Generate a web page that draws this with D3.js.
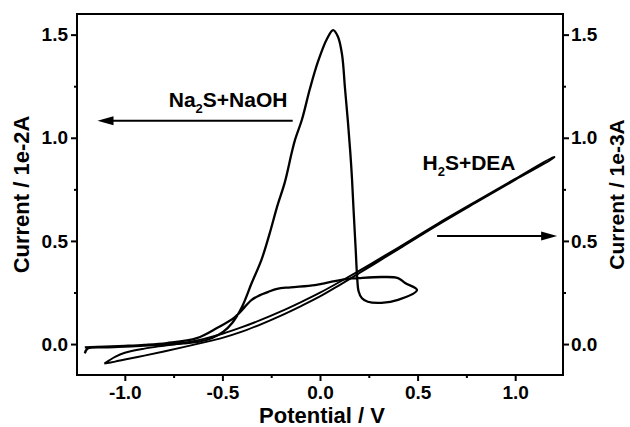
<!DOCTYPE html>
<html>
<head>
<meta charset="utf-8">
<script src="https://cdnjs.cloudflare.com/ajax/libs/d3/7.8.5/d3.min.js"></script>
<style>
body { margin: 0; background: #fff; }
text { font-family: "Liberation Sans", Arial, sans-serif; font-weight: bold; fill: #000; }
</style>
</head>
<body>
<div id="chart"></div>
<script>
(function(d3) {
  'use strict';
  // Na2S + NaOH scan, left axis (1e-2 A)
  var na2sPotential = [-1.205, -1.19, -1.1, -1.0, -0.9, -0.8, -0.7, -0.62, -0.555, -0.495,
    -0.45, -0.40, -0.35, -0.30, -0.257, -0.22, -0.18, -0.145, -0.128, -0.092,
    -0.051, -0.01, 0.036, 0.067, 0.092, 0.113, 0.128, 0.143, 0.155, 0.164,
    0.172, 0.183, 0.19, 0.198, 0.215, 0.245, 0.315, 0.40, 0.497, 0.436,
    0.40, 0.318, 0.2, 0.143, 0.05, -0.026, -0.15, -0.22, -0.267, -0.31,
    -0.35, -0.436, -0.528, -0.631, -0.785, -0.9, -1.0, -1.1, -1.205];
  var na2sCurrent = [-0.045, -0.022, -0.016, -0.012, -0.008, -0.003, 0.003, 0.012, 0.028, 0.06,
    0.102, 0.18, 0.296, 0.408, 0.539, 0.665, 0.785, 0.927, 0.99, 1.09,
    1.24, 1.37, 1.48, 1.522, 1.49, 1.403, 1.24, 1.078, 0.932, 0.8,
    0.65, 0.456, 0.33, 0.255, 0.222, 0.205, 0.2, 0.214, 0.262, 0.296,
    0.32, 0.325, 0.32, 0.316, 0.3, 0.286, 0.275, 0.268, 0.252, 0.236,
    0.214, 0.131, 0.078, 0.029, 0.005, -0.004, -0.009, -0.013, -0.016];

  // H2S + DEA scan, right axis (1e-3 A)
  var h2sPotential = [-1.105, -1.05, -1.0, -0.9, -0.8, -0.7, -0.6, -0.5, -0.4, -0.3, -0.2,
    -0.1, 0.0, 0.1, 0.2, 0.3, 0.4, 0.6, 0.8, 1.0, 1.2];
  var h2sForward = [-0.095, -0.085, -0.075, -0.056, -0.036, -0.015, 0.007, 0.030, 0.060, 0.097, 0.138,
    0.183, 0.231, 0.286, 0.343, 0.401, 0.459, 0.575, 0.686, 0.796, 0.905];
  var h2sReverse = [-0.095, -0.062, -0.042, -0.022, -0.008, 0.005, 0.024, 0.050, 0.082, 0.118, 0.158,
    0.202, 0.249, 0.301, 0.355, 0.411, 0.467, 0.582, 0.692, 0.801, 0.908];

  // ticks
  var xTicks = [-1.0, -0.5, 0.0, 0.5, 1.0];
  var xMinor = [-0.75, -0.25, 0.25, 0.75];
  var yTicks = [0.0, 0.5, 1.0, 1.5];
  var yMinor = [0.25, 0.75, 1.25];

  var margin = {top: 14, right: 67, bottom: 52, left: 77};
  var width = 630 - margin.left - margin.right;
  var height = 427 - margin.top - margin.bottom;

  var x = d3.scaleLinear().domain([-1.245, 1.245]).range([0, width]);
  var yLeft = d3.scaleLinear().domain([-0.15, 1.6]).range([height, 0]);
  var yRight = d3.scaleLinear().domain([-0.15, 1.6]).range([height, 0]);

  var fmt = function(d) { return d.toFixed(1); };

  var svg = d3.select('#chart').append('svg')
    .attr('width', 630)
    .attr('height', 427)
    .style('background', '#fff');

  var g = svg.append('g')
    .attr('transform', 'translate(' + margin.left + ',' + margin.top + ')');

  //axes
  function styleAxis(sel, size) {
    sel.select('.domain').remove();
    sel.selectAll('line').attr('stroke', '#000').attr('stroke-width', 2);
    sel.selectAll('text').style('font-size', size + 'px');
  }

  var bottom = g.append('g').attr('transform', 'translate(0,' + height + ')')
    .call(d3.axisBottom(x).tickValues(xTicks).tickFormat(fmt).tickSize(6).tickPadding(5).tickSizeOuter(0));
  styleAxis(bottom, 19);
  var bottomMinor = g.append('g').attr('transform', 'translate(0,' + height + ')')
    .call(d3.axisBottom(x).tickValues(xMinor).tickFormat('').tickSize(3).tickSizeOuter(0));
  styleAxis(bottomMinor, 19);

  var left = g.append('g')
    .call(d3.axisLeft(yLeft).tickValues(yTicks).tickFormat(fmt).tickSize(6).tickPadding(3).tickSizeOuter(0));
  styleAxis(left, 19);
  var leftMinor = g.append('g')
    .call(d3.axisLeft(yLeft).tickValues(yMinor).tickFormat('').tickSize(3).tickSizeOuter(0));
  styleAxis(leftMinor, 19);

  var right = g.append('g').attr('transform', 'translate(' + width + ',0)')
    .call(d3.axisRight(yRight).tickValues(yTicks).tickFormat(fmt).tickSize(6).tickPadding(2).tickSizeOuter(0));
  styleAxis(right, 19);
  var rightMinor = g.append('g').attr('transform', 'translate(' + width + ',0)')
    .call(d3.axisRight(yRight).tickValues(yMinor).tickFormat('').tickSize(3).tickSizeOuter(0));
  styleAxis(rightMinor, 19);

  //frame
  g.append('rect')
    .attr('width', width)
    .attr('height', height)
    .attr('fill', 'none')
    .attr('stroke', '#000')
    .attr('stroke-width', 2);

  //curves
  var na2sData = na2sPotential.map(function(v, i) { return [v, na2sCurrent[i]]; });
  var h2sData = h2sPotential.map(function(v, i) { return [v, h2sForward[i]]; })
    .concat(h2sPotential.map(function(v, i) { return [v, h2sReverse[i]]; }).reverse());

  var lineLeft = d3.line()
    .x(function(d) { return x(d[0]); })
    .y(function(d) { return yLeft(d[1]); })
    .curve(d3.curveCatmullRom.alpha(0.5));
  var lineRight = d3.line()
    .x(function(d) { return x(d[0]); })
    .y(function(d) { return yRight(d[1]); })
    .curve(d3.curveCatmullRom.alpha(0.5));

  g.append('path')
    .datum(h2sData)
    .attr('d', lineRight)
    .attr('fill', 'none')
    .attr('stroke', '#000')
    .attr('stroke-width', 1.9)
    .attr('stroke-linejoin', 'round');

  g.append('path')
    .datum(na2sData)
    .attr('d', lineLeft)
    .attr('fill', 'none')
    .attr('stroke', '#000')
    .attr('stroke-width', 2.3)
    .attr('stroke-linejoin', 'round');

  //annotations with arrows
  function arrow(x1, x2, yy) {
    var dir = x2 < x1 ? 1 : -1;
    g.append('line')
      .attr('x1', x1).attr('x2', x2 + dir * 10)
      .attr('y1', yy).attr('y2', yy)
      .attr('stroke', '#000').attr('stroke-width', 2);
    g.append('path')
      .attr('d', 'M' + x2 + ',' + yy + 'L' + (x2 + dir * 16) + ',' + (yy - 4.5) +
        'L' + (x2 + dir * 16) + ',' + (yy + 4.5) + 'Z')
      .attr('fill', '#000');
  }

  function label(px, py, a, b) {
    var t = g.append('text').attr('x', px).attr('y', py).style('font-size', '21px');
    t.append('tspan').text(a);
    t.append('tspan').attr('dy', 6).style('font-size', '13px').text('2');
    t.append('tspan').attr('dy', -6).text(b);
  }

  label(x(-0.775), yLeft(1.15), 'Na', 'S+NaOH');
  arrow(x(-0.14), x(-1.14), yLeft(1.083));

  label(x(0.525), yRight(0.845), 'H', 'S+DEA');
  arrow(x(0.6), x(1.215), yRight(0.524));

  //axis titles
  svg.append('text')
    .attr('x', margin.left + width / 2 + 2)
    .attr('y', 423)
    .attr('text-anchor', 'middle')
    .style('font-size', '22px')
    .text('Potential / V');

  svg.append('text')
    .attr('transform', 'translate(29,' + (margin.top + height / 2) + ') rotate(-90)')
    .attr('text-anchor', 'middle')
    .style('font-size', '22px')
    .text('Current / 1e-2A');

  svg.append('text')
    .attr('transform', 'translate(624,' + (margin.top + height / 2) + ') rotate(-90)')
    .attr('text-anchor', 'middle')
    .style('font-size', '21px')
    .text('Current / 1e-3A');
})(window.d3);
</script>
</body>
</html>
